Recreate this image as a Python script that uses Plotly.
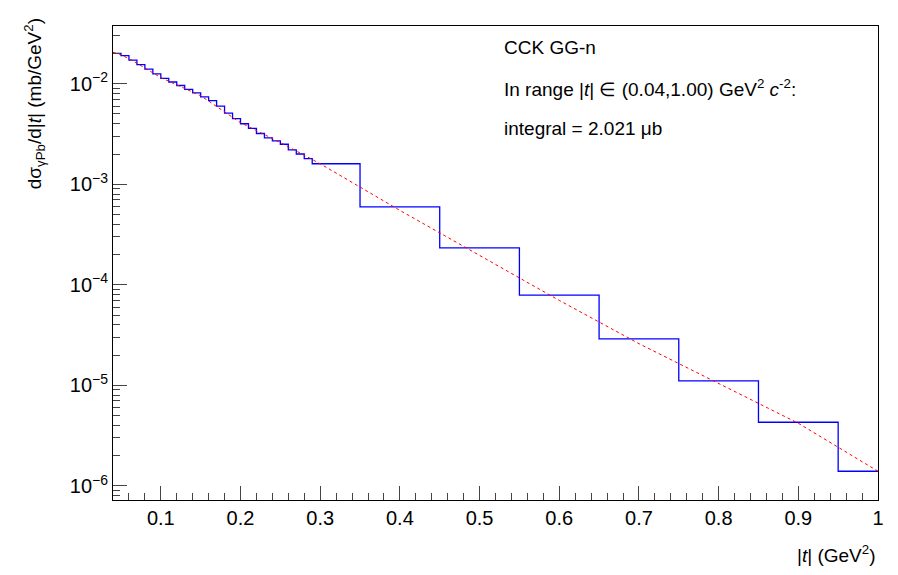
import numpy as np
import plotly.graph_objects as go

# fine bins 0.04-0.30 (width 0.01), then wider bins
bin_edges = [0.04 + 0.01 * i for i in range(27)] + [0.35, 0.45, 0.55, 0.65, 0.75, 0.85, 0.95, 1.0]
bin_values = [0.0200, 0.0190, 0.0172, 0.0155, 0.0140, 0.0125, 0.0113, 0.0104, 0.0096, 0.0088,
              0.0081, 0.0074, 0.0068, 0.0060, 0.0051, 0.0045, 0.0040, 0.0036, 0.0032, 0.0029,
              0.0027, 0.0025, 0.0022, 0.0020, 0.0018, 0.0016,
              1.6e-3, 5.97e-4, 2.33e-4, 7.9e-5, 2.9e-5, 1.11e-5, 4.3e-6, 1.4e-6]

fit_t = [0.04, 0.05, 0.07, 0.10, 0.15, 0.20, 0.25, 0.30, 0.40, 0.50, 0.60, 0.70, 0.80, 0.90, 1.00]
fit_val = [0.0205, 0.0195, 0.016, 0.0115, 0.0076, 0.0041, 0.0026, 0.0016, 5.5e-4, 1.95e-4,
           7.0e-5, 2.6e-5, 1.05e-5, 4.2e-6, 1.4e-6]

decades = [1e-6, 1e-5, 1e-4, 1e-3, 1e-2]
decade_labels = ["10<sup>−6</sup>", "10<sup>−5</sup>", "10<sup>−4</sup>", "10<sup>−3</sup>", "10<sup>−2</sup>"]

# histogram as step outline
hx, hy = [bin_edges[0]], [bin_values[0]]
for i, v in enumerate(bin_values):
    hx += [bin_edges[i], bin_edges[i + 1]]
    hy += [v, v]
hx.append(bin_edges[-1]); hy.append(bin_values[-1])

fig = go.Figure()
fig.add_trace(go.Scatter(x=hx, y=hy, mode="lines", line=dict(color="#0000ff", width=1.3),
                         showlegend=False))
fig.add_trace(go.Scatter(x=fit_t, y=fit_val, mode="lines",
                         line=dict(color="#ff0000", width=1, dash="dot"), showlegend=False))

font = dict(family="Liberation Sans, Arial", size=19, color="black")
tickfont = dict(family="Liberation Sans, Arial", size=20, color="black")
fig.update_layout(
    width=898, height=575, plot_bgcolor="white", paper_bgcolor="white",
    margin=dict(l=105, r=28, t=18, b=83), font=font,
    xaxis=dict(range=[0.04, 1.0], tickvals=[0.1 * i for i in range(1, 11)],
               ticktext=["0.1", "0.2", "0.3", "0.4", "0.5", "0.6", "0.7", "0.8", "0.9", "1"],
               tickfont=tickfont,
               ticks="inside", ticklen=14, showline=True, mirror=True, linecolor="black",
               showgrid=False, zeroline=False,
               minor=dict(ticks="inside", ticklen=7, dtick=0.02, tick0=0, showgrid=False)),
    yaxis=dict(type="log", range=[-6.14, np.log10(0.0375)],
               tickvals=decades, ticktext=decade_labels, tickfont=tickfont,
               ticks="inside", ticklen=14, showline=True, mirror=True, linecolor="black",
               showgrid=False, zeroline=False,
               minor=dict(ticks="inside", ticklen=7, dtick="D1", showgrid=False)),
)
fig.add_annotation(text="|<i>t</i>| (GeV<sup>2</sup>)", xref="paper", yref="paper", x=1.0, y=-0.085,
                   xanchor="right", yanchor="top", showarrow=False, font=font)
fig.add_annotation(text="dσ<sub>γPb</sub>/d|<i>t</i>| (mb/GeV<sup>2</sup>)", xref="paper", yref="paper",
                   x=-0.103, y=1.02, xanchor="center", yanchor="top", textangle=-90,
                   showarrow=False, font=font)
for i, txt in enumerate(["CCK GG-n",
                         "In range |<i>t</i>| ∈ (0.04,1.00) GeV<sup>2</sup> <i>c</i><sup>-2</sup>:",
                         "integral = 2.021 μb"]):
    fig.add_annotation(text=txt, xref="paper", yref="paper", x=0.508, y=0.955 - i * 0.086,
                       xanchor="left", yanchor="middle", showarrow=False, font=font)

fig.write_html("out.html")
